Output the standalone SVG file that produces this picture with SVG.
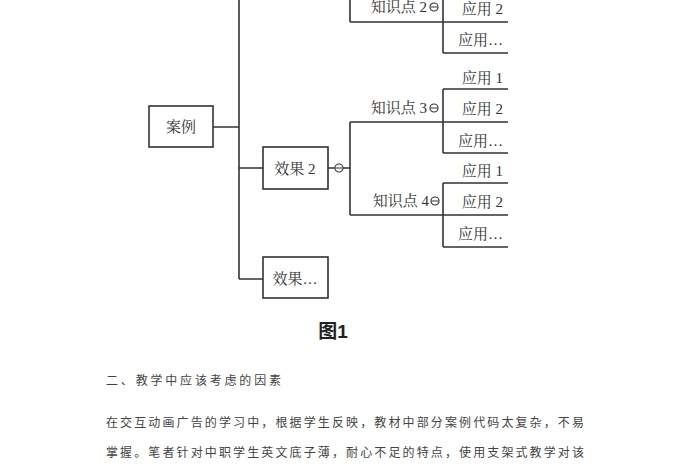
<svg xmlns="http://www.w3.org/2000/svg" width="700" height="470" viewBox="0 0 700 470">
<style>
.b{fill:#fff;stroke:#333;stroke-width:1.6}
.l{fill:none;stroke:#333;stroke-width:1.6}
.c{fill:#fff;stroke:#333;stroke-width:1.2}
.t{font-family:"Liberation Serif","Noto Serif CJK SC","Noto Sans CJK SC",serif;font-size:15px;fill:#333}
.p{font-family:"Noto Sans CJK SC",sans-serif;font-size:12px;fill:#444}
</style>
<rect width="700" height="470" fill="#fff"/>
<g id="connectors">
<path class="l" d="M239 0V279M213 127H239M239 168H263M239 279H263M328 168H335M343 168H350M350 122V215M350 122H508M350 215H508M443 89V153M443 89H508M443 153H508M443 183V247M443 183H508M443 247H508M350 0V22M350 22H508M443 0V53M443 53H508"/>
<circle class="c" cx="339" cy="168" r="4"/><line x1="336" y1="168" x2="342" y2="168" stroke="#333"/>
<circle class="c" cx="434" cy="7" r="4"/><line x1="431" y1="7" x2="437" y2="7" stroke="#333"/>
<circle class="c" cx="434" cy="108" r="4"/><line x1="431" y1="108" x2="437" y2="108" stroke="#333"/>
<circle class="c" cx="435" cy="201" r="4"/><line x1="432" y1="201" x2="438" y2="201" stroke="#333"/>
</g>
<g id="n-anli"><rect class="b" x="149" y="106" width="64" height="41"/><text class="t" x="181" y="132" text-anchor="middle">案例</text></g>
<g id="n-xg2"><rect class="b" x="263" y="147" width="65" height="42"/><text class="t" x="295" y="174" text-anchor="middle">效果 2</text></g>
<g id="n-xgd"><rect class="b" x="263" y="257" width="65" height="41"/><text class="t" x="295" y="284" text-anchor="middle">效果…</text></g>
<g id="k2"><text class="t" x="427" y="12" text-anchor="end">知识点 2</text></g>
<g id="k3"><text class="t" x="427" y="113" text-anchor="end">知识点 3</text></g>
<g id="k4"><text class="t" x="429" y="206" text-anchor="end">知识点 4</text></g>
<g id="a"><text class="t" x="503" y="14" text-anchor="end">应用 2</text><text class="t" x="503" y="45" text-anchor="end">应用…</text>
<text class="t" x="503" y="83" text-anchor="end">应用 1</text><text class="t" x="503" y="114" text-anchor="end">应用 2</text><text class="t" x="503" y="146" text-anchor="end">应用…</text>
<text class="t" x="503" y="176" text-anchor="end">应用 1</text><text class="t" x="503" y="207" text-anchor="end">应用 2</text><text class="t" x="503" y="239" text-anchor="end">应用…</text></g>
<text x="333" y="338" text-anchor="middle" font-family="Liberation Sans,Noto Sans CJK SC,sans-serif" font-weight="bold" font-size="19" fill="#222">图1</text>
<text class="p" x="106" y="385" textLength="175">二、教学中应该考虑的因素</text>
<text class="p" x="106" y="427" textLength="478">在交互动画广告的学习中，根据学生反映，教材中部分案例代码太复杂，不易</text>
<text class="p" x="106" y="457" textLength="478">掌握。笔者针对中职学生英文底子薄，耐心不足的特点，使用支架式教学对该</text>
</svg>
